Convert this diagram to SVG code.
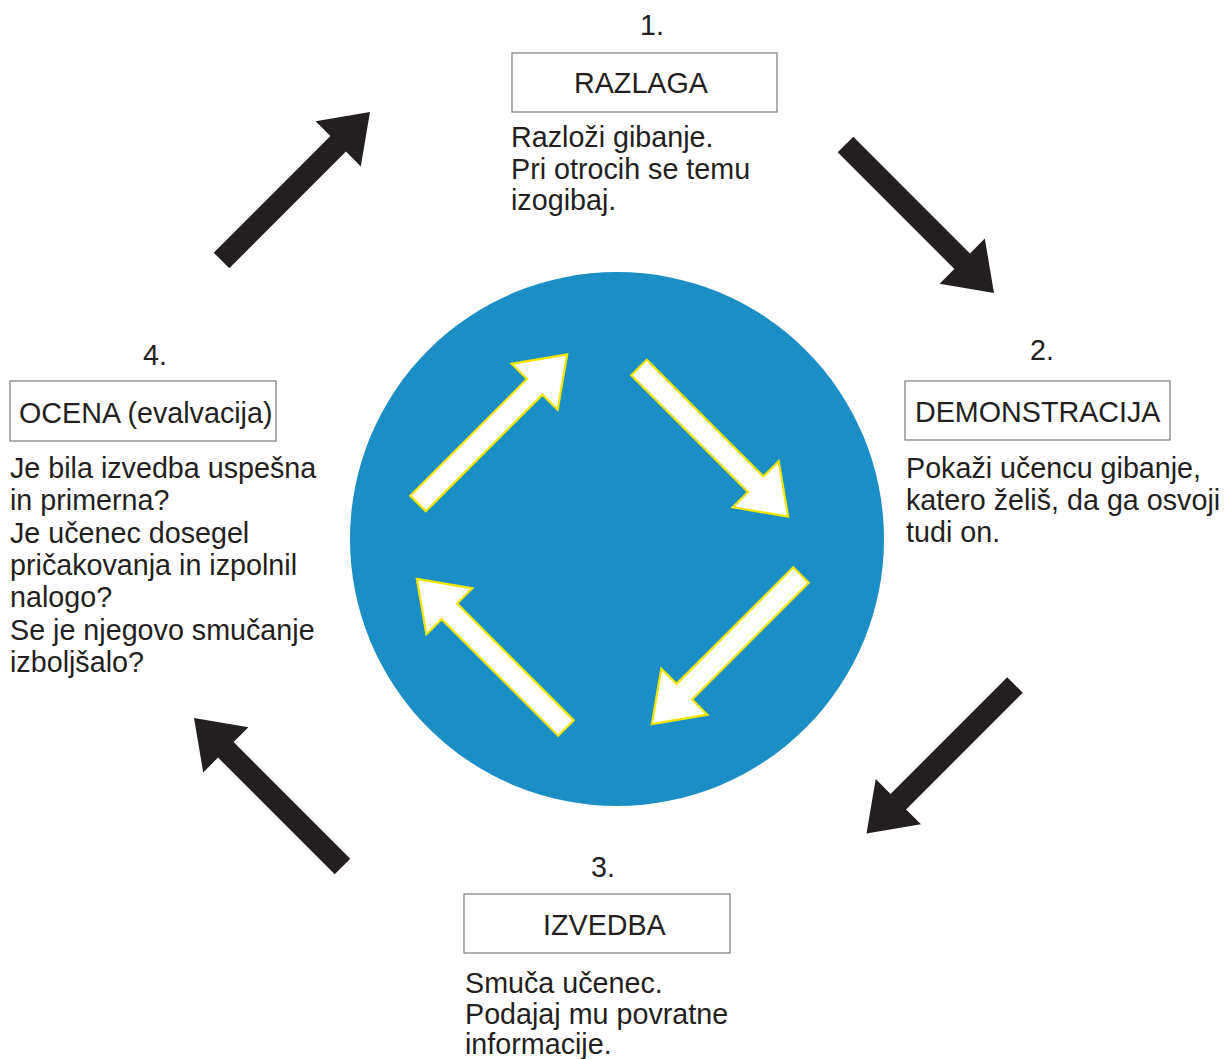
<svg xmlns="http://www.w3.org/2000/svg" xmlns:xlink="http://www.w3.org/1999/xlink" width="1232" height="1059" viewBox="0 0 1232 1059">
<style>
  text { font-family: "Liberation Sans", Arial, sans-serif; font-size: 28.7px; fill: #231f20; }
  .num { text-anchor: middle; }
  .box { fill: #ffffff; stroke: #7a7a7a; stroke-width: 1.2; }
  .black { fill: #231f20; }
  .white { fill: #ffffff; stroke: #f2e600; stroke-width: 2.2; stroke-linejoin: miter; }
</style>
<defs>
  <polygon id="blackArrow" points="0,-11 165,-11 165,-32 210,0 165,32 165,11 0,11"/>
  <polygon id="whiteArrow" points="0,-11 165,-11 165,-32.5 211,0 165,32.5 165,11 0,11"/>
</defs>
<rect width="1232" height="1059" fill="#ffffff"/>

<g id="cycle">
  <circle cx="617" cy="539" r="267" fill="#1b8ec6"/>
  <use xlink:href="#whiteArrow" class="white" transform="translate(418,503.5) rotate(-45)"/>
  <use xlink:href="#whiteArrow" class="white" transform="translate(639,367.5) rotate(45)"/>
  <use xlink:href="#whiteArrow" class="white" transform="translate(801,575) rotate(135)"/>
  <use xlink:href="#whiteArrow" class="white" transform="translate(566,728) rotate(-135)"/>
</g>

<g id="connectors">
  <use xlink:href="#blackArrow" class="black" transform="translate(221.5,260.5) rotate(-45)"/>
  <use xlink:href="#blackArrow" class="black" transform="translate(845.5,144.5) rotate(45)"/>
  <use xlink:href="#blackArrow" class="black" transform="translate(1015,685) rotate(135)"/>
  <use xlink:href="#blackArrow" class="black" transform="translate(342.5,866.5) rotate(-135)"/>
</g>

<g id="step1">
  <text class="num" x="652" y="35">1.</text>
  <rect class="box" x="512" y="53" width="265" height="59"/>
  <text x="574" y="93">RAZLAGA</text>
  <text x="511" y="147">Razloži gibanje.</text>
  <text x="511" y="178.5">Pri otrocih se temu</text>
  <text x="511" y="210">izogibaj.</text>
</g>

<g id="step2">
  <text class="num" x="1042" y="360">2.</text>
  <rect class="box" x="905" y="381" width="265" height="59"/>
  <text x="915" y="422">DEMONSTRACIJA</text>
  <text x="906" y="478">Pokaži učencu gibanje,</text>
  <text x="906" y="510">katero želiš, da ga osvoji</text>
  <text x="906" y="542">tudi on.</text>
</g>

<g id="step3">
  <text class="num" x="603" y="877">3.</text>
  <rect class="box" x="464" y="894" width="266" height="59"/>
  <text x="543" y="935">IZVEDBA</text>
  <text x="465" y="993">Smuča učenec.</text>
  <text x="465" y="1024">Podajaj mu povratne</text>
  <text x="465" y="1054">informacije.</text>
</g>

<g id="step4">
  <text class="num" x="155" y="365">4.</text>
  <rect class="box" x="10" y="381" width="266" height="60"/>
  <text x="19" y="423">OCENA (evalvacija)</text>
  <text x="10" y="478">Je bila izvedba uspešna</text>
  <text x="10" y="510.3">in primerna?</text>
  <text x="10" y="542.6">Je učenec dosegel</text>
  <text x="10" y="574.9">pričakovanja in izpolnil</text>
  <text x="10" y="607.2">nalogo?</text>
  <text x="10" y="639.5">Se je njegovo smučanje</text>
  <text x="10" y="671.8">izboljšalo?</text>
</g>
</svg>
